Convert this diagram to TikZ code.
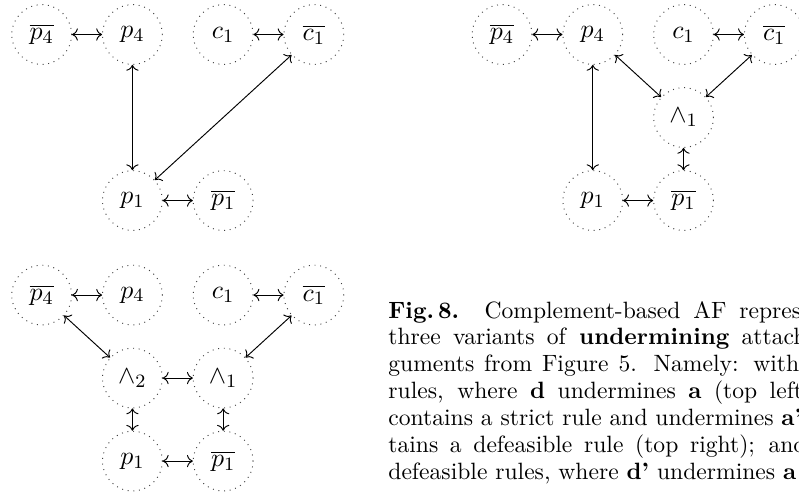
\documentclass[tikz,border=0pt]{standalone}
\usetikzlibrary{arrows.meta}

\tikzset{
  arg/.style={circle, draw=black!75, dotted, minimum size=0.89cm, inner sep=0pt,
    font=\fontsize{10.95}{13}\selectfont},
  att/.style={<->, thin},
  capline/.style={anchor=base west, inner sep=0pt, font=\normalsize}
}

\begin{document}
\begin{tikzpicture}

  % Page size of the picture
  \useasboundingbox (0,0) rectangle (11.905,-7.361);
  \clip (0,0) rectangle (11.905,-7.361);

  % Grid steps between the arguments
  \def\dx{1.352}
  \def\dy{1.237}

  % Top left: strict rules
  \begin{scope}[shift={(0.621,-0.514)}]
    \node[arg] (tlnp4) at (0,0) {$\overline{p_4}$};
    \node[arg] (tlp4) at (\dx,0) {$p_4$};
    \node[arg] (tlc1) at (2*\dx,0) {$c_1$};
    \node[arg] (tlnc1) at (3*\dx,0) {$\overline{c_1}$};
    \node[arg] (tlp1) at (\dx,-2*\dy) {$p_1$};
    \node[arg] (tlnp1) at (2*\dx,-2*\dy) {$\overline{p_1}$};

    \draw[att] (tlnp4) -- (tlp4);
    \draw[att] (tlc1) -- (tlnc1);
    \draw[att] (tlp4) -- (tlp1);
    \draw[att] (tlnc1) -- (tlp1);
    \draw[att] (tlp1) -- (tlnp1);
  \end{scope}

  % Top right: strict and defeasible rule
  \begin{scope}[shift={(7.480,-0.514)}]
    \node[arg] (trnp4) at (0,0) {$\overline{p_4}$};
    \node[arg] (trp4) at (\dx,0) {$p_4$};
    \node[arg] (trc1) at (2*\dx,0) {$c_1$};
    \node[arg] (trnc1) at (3*\dx,0) {$\overline{c_1}$};
    \node[arg] (trw1) at (2*\dx,-\dy) {$\wedge_1$};
    \node[arg] (trp1) at (\dx,-2*\dy) {$p_1$};
    \node[arg] (trnp1) at (2*\dx,-2*\dy) {$\overline{p_1}$};

    \draw[att] (trnp4) -- (trp4);
    \draw[att] (trc1) -- (trnc1);
    \draw[att] (trp4) -- (trp1);
    \draw[att] (trp4) -- (trw1);
    \draw[att] (trnc1) -- (trw1);
    \draw[att] (trw1) -- (trnp1);
    \draw[att] (trp1) -- (trnp1);
  \end{scope}

  % Bottom left: defeasible rules
  \begin{scope}[shift={(0.621,-4.396)}]
    \node[arg] (blnp4) at (0,0) {$\overline{p_4}$};
    \node[arg] (blp4) at (\dx,0) {$p_4$};
    \node[arg] (blc1) at (2*\dx,0) {$c_1$};
    \node[arg] (blnc1) at (3*\dx,0) {$\overline{c_1}$};
    \node[arg] (blw2) at (\dx,-\dy) {$\wedge_2$};
    \node[arg] (blw1) at (2*\dx,-\dy) {$\wedge_1$};
    \node[arg] (blp1) at (\dx,-2*\dy) {$p_1$};
    \node[arg] (blnp1) at (2*\dx,-2*\dy) {$\overline{p_1}$};

    \draw[att] (blnp4) -- (blp4);
    \draw[att] (blc1) -- (blnc1);
    \draw[att] (blnp4) -- (blw2);
    \draw[att] (blnc1) -- (blw1);
    \draw[att] (blw2) -- (blw1);
    \draw[att] (blw2) -- (blp1);
    \draw[att] (blw1) -- (blnp1);
    \draw[att] (blp1) -- (blnp1);
  \end{scope}

  % Caption, one node per printed line
  \def\cx{5.78}
  \def\cy{-4.738}
  \def\cs{0.400}
  \node[capline] (cap1) at (\cx,\cy) {\makebox[6.15cm][s]{\textbf{Fig.\,8.} Complement-based AF repres}};
  \node[capline] (cap2) at (\cx,\cy-\cs) {\makebox[6.23cm][s]{three variants of \textbf{undermining} attach}};
  \node[capline] (cap3) at (\cx,\cy-2*\cs) {\makebox[6.12cm][s]{guments from Figure 5. Namely: with}};
  \node[capline] (cap4) at (\cx,\cy-3*\cs) {\makebox[6.18cm][s]{rules, where \textbf{d} undermines \textbf{a} (top left}};
  \node[capline] (cap5) at (\cx,\cy-4*\cs) {contains a strict rule and undermines \textbf{a'}};
  \node[capline] (cap6) at (\cx,\cy-5*\cs) {\makebox[6.23cm][s]{tains a defeasible rule (top right); and}};
  \node[capline] (cap7) at (\cx,\cy-6*\cs) {defeasible rules, where \textbf{d'} undermines \textbf{a}};

\end{tikzpicture}
\end{document}
